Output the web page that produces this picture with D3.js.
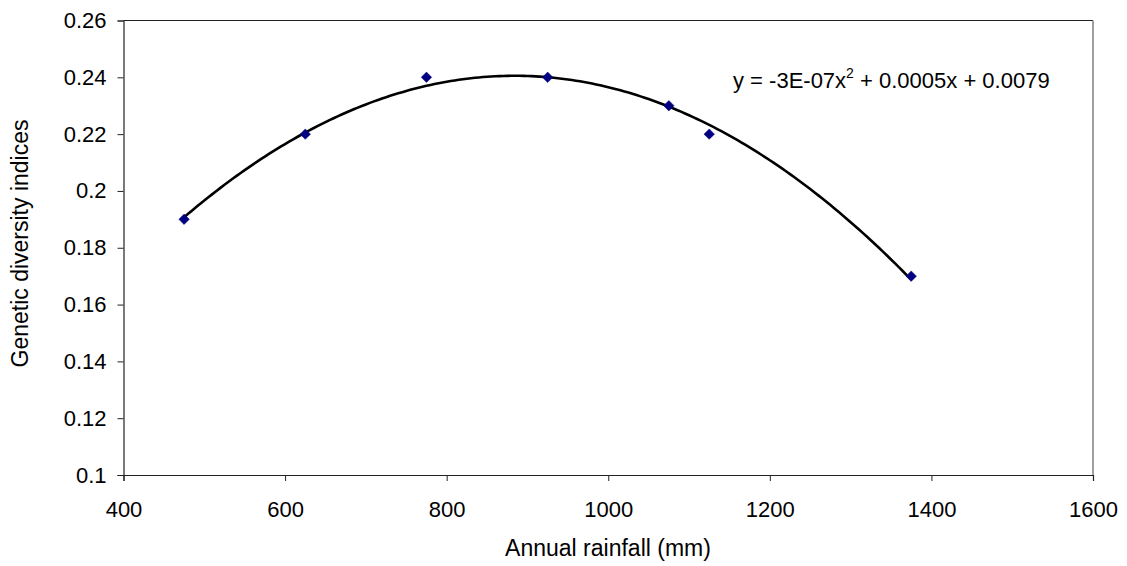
<!DOCTYPE html>
<html>
<head>
<meta charset="utf-8">
<script src="https://cdn.jsdelivr.net/npm/d3@7"></script>
<style>
  body { margin: 0; background: #fff; }
  text { font-family: "Liberation Sans", Arial, sans-serif; }
</style>
</head>
<body>
<div id="chart"></div>
<script>
// data
const rainfall = [475, 625, 775, 925, 1075, 1125, 1375];
const diversity = [0.19, 0.22, 0.24, 0.24, 0.23, 0.22, 0.17];
const xTicks = [400, 600, 800, 1000, 1200, 1400, 1600];
const yTicks = [0.1, 0.12, 0.14, 0.16, 0.18, 0.2, 0.22, 0.24, 0.26];
const equationLabel = ["y = -3E-07x", "2", " + 0.0005x + 0.0079"];

const width = 1127, height = 566;
const margin = { top: 20.5, right: 34, bottom: 91, left: 123.5 };

const svg = d3.select('#chart').append('svg')
  .attr('width', width)
  .attr('height', height);

const x = d3.scaleLinear().domain([400, 1600]).range([margin.left, width - margin.right]);
const y = d3.scaleLinear().domain([0.1, 0.26]).range([height - margin.bottom, margin.top]);

// plot frame: dark top, grey right
svg.append('line')
  .attr('x1', x(400)).attr('x2', x(1600))
  .attr('y1', y(0.26)).attr('y2', y(0.26))
  .attr('stroke', '#222').attr('stroke-width', 1);
svg.append('line')
  .attr('x1', x(1600)).attr('x2', x(1600))
  .attr('y1', y(0.26)).attr('y2', y(0.1))
  .attr('stroke', '#808080').attr('stroke-width', 1.5);

// axes
const xAxis = svg.append('g')
  .attr('transform', `translate(0,${y(0.1)})`)
  .call(d3.axisBottom(x).tickValues(xTicks).tickSize(6).tickPadding(20).tickFormat(d3.format('d')));
const yAxis = svg.append('g')
  .attr('transform', `translate(${x(400)},0)`)
  .call(d3.axisLeft(y).tickValues(yTicks).tickSize(6).tickPadding(11).tickFormat(d => String(+d.toFixed(2))));

[xAxis, yAxis].forEach(g => {
  g.select('.domain').attr('stroke', '#222').attr('stroke-width', 1.2);
  g.selectAll('.tick line').attr('stroke', '#222');
  g.selectAll('.tick text').attr('fill', '#000').style('font-size', '22px')
    .style('font-family', '"Liberation Sans", Arial, sans-serif');
});

// polynomial (order 2) least-squares trend line from the points
function polyFit(xs, ys) {
  const n = xs.length;
  let s = [0, 0, 0, 0, 0], t = [0, 0, 0];
  for (let i = 0; i < n; i++) {
    for (let k = 0; k < 5; k++) s[k] += Math.pow(xs[i], k);
    for (let k = 0; k < 3; k++) t[k] += ys[i] * Math.pow(xs[i], k);
  }
  const A = [[s[0], s[1], s[2], t[0]], [s[1], s[2], s[3], t[1]], [s[2], s[3], s[4], t[2]]];
  for (let c = 0; c < 3; c++) {
    for (let r = c + 1; r < 3; r++) {
      const f = A[r][c] / A[c][c];
      for (let k = c; k < 4; k++) A[r][k] -= f * A[c][k];
    }
  }
  const b = [0, 0, 0];
  for (let r = 2; r >= 0; r--) {
    let v = A[r][3];
    for (let k = r + 1; k < 3; k++) v -= A[r][k] * b[k];
    b[r] = v / A[r][r];
  }
  return b;
}
const coef = polyFit(rainfall, diversity);
const trendX = d3.range(rainfall[0], rainfall[rainfall.length - 1] + 0.1, 5);
const line = d3.line()
  .x(d => x(d))
  .y(d => y(coef[0] + coef[1] * d + coef[2] * d * d));

svg.append('path')
  .datum(trendX)
  .attr('d', line)
  .attr('fill', 'none')
  .attr('stroke', '#000')
  .attr('stroke-width', 2.6);

// data points as diamonds
svg.selectAll('.pt')
  .data(rainfall)
  .enter()
  .append('path')
  .attr('class', 'pt')
  .attr('d', d3.symbol().type(d3.symbolDiamond2).size(70))
  .attr('transform', (d, i) => `translate(${x(d)},${y(diversity[i])})`)
  .attr('fill', '#000080')
  .attr('stroke', '#000080')
  .attr('stroke-width', 0.5);

// equation label
const eq = svg.append('text')
  .attr('x', 733)
  .attr('y', 88)
  .style('font-size', '22px')
  .attr('fill', '#000');
eq.append('tspan').text(equationLabel[0]);
eq.append('tspan').text(equationLabel[1]).attr('dy', -10).style('font-size', '14px');
eq.append('tspan').text(equationLabel[2]).attr('dy', 10);

// axis titles
svg.append('text')
  .attr('x', 608)
  .attr('y', 556)
  .attr('text-anchor', 'middle')
  .style('font-size', '23px')
  .text('Annual rainfall (mm)');

svg.append('text')
  .attr('transform', `translate(28,243.5) rotate(-90)`)
  .attr('text-anchor', 'middle')
  .style('font-size', '23px')
  .text('Genetic diversity indices');
</script>
</body>
</html>
